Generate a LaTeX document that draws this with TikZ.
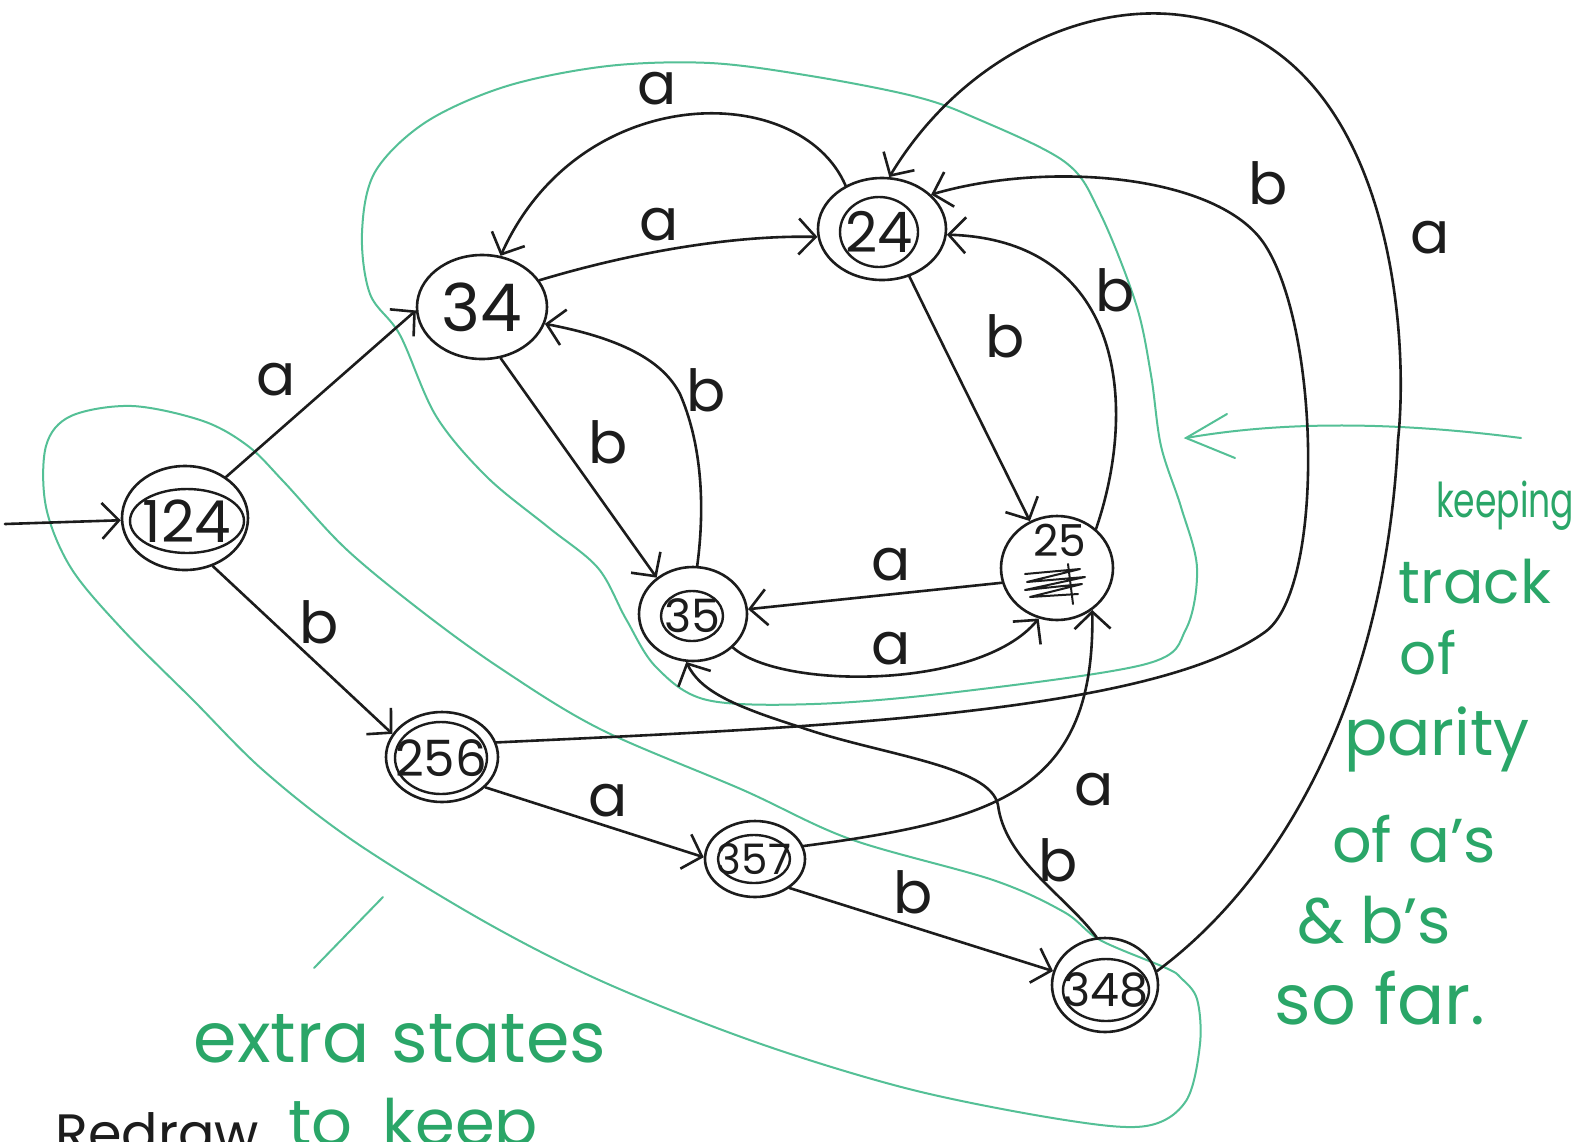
\documentclass[tikz,border=0pt]{standalone}
\usepackage{fontspec}
\setmainfont{Poppins}
\usetikzlibrary{arrows.meta,shapes.geometric}
\newcommand{\hsz}[1]{\fontsize{#1}{#1}\selectfont}
\definecolor{ink}{RGB}{28,28,28}
\definecolor{gline}{RGB}{84,192,150}
\definecolor{gtext}{RGB}{42,166,104}
\begin{document}
\begin{tikzpicture}[x=1pt,y=-1pt,
  every node/.style={inner sep=0pt},
  st/.style={ellipse, draw=ink, line width=2.6pt, inner sep=0pt},
  inn/.style={ellipse, draw=ink, line width=2.4pt, inner sep=0pt},
  edge/.style={draw=ink, line width=2.6pt, line cap=round, line join=round,
    -{Straight Barb[length=17pt,width=36pt]}},
  lab/.style={font=\hsz{58}, text=ink},
  gl/.style={draw=gline, line width=2pt, line cap=round},
  gt/.style={text=gtext, anchor=base}
]
\useasboundingbox (0,0) rectangle (1590,1141);
\clip (0,0) rectangle (1590,1141);
\fill[white] (0,0) rectangle (1590,1141);

% ---------- green outlines ----------
\draw[gl] plot[smooth cycle, tension=0.55] coordinates {
 (400,335) (436,416) (487,477) (548,527) (598,568) (626,619) (656,667)
 (707,700) (814,704) (957,692) (1146,664) (1186,629) (1197,568) (1181,507)
 (1161,446) (1151,375) (1136,304) (1100,213) (1065,162) (973,117) (913,96)
 (811,76) (710,63) (608,66) (507,86) (426,122) (375,172) (362,233) (370,294)};
\draw[gl] plot[smooth cycle, tension=0.55] coordinates {
 (248,446) (203,421) (132,406) (71,416) (46,446) (46,507) (71,568) (122,629)
 (193,700) (264,771) (355,842) (487,923) (608,984) (761,1044) (913,1090)
 (1065,1120) (1146,1126) (1186,1101) (1200,1044) (1197,999) (1181,978)
 (1166,968) (1100,940) (1064,912) (993,880) (850,839) (743,790) (600,729)
 (500,668) (420,610) (345,548) (284,482)};
% green arrow
\coordinate (ga0) at (1521,438);
\coordinate (ga1) at (1186,438);
\draw[gl] (ga0) .. controls (1420,425) and (1300,418) .. (ga1);
\draw[gl] (1227,414) -- (ga1) -- (1235,458);
% green slash
\coordinate (gs0) at (314,968);
\coordinate (gs1) at (383,897);
\draw[gl] (gs0) -- (gs1);

% ---------- states ----------
\node[st, minimum width=126, minimum height=104] (q124) at (185,518) {};
\node[inn, minimum width=114, minimum height=64,
  label={[font=\hsz{58},text=ink]center:124}] (q124i) at (187,521) {};

\node[st, minimum width=130, minimum height=104,
  label={[font=\hsz{66},text=ink]center:34}] (q34) at (482,307) {};

\node[st, minimum width=128, minimum height=102] (q24) at (882,229) {};
\node[inn, minimum width=78, minimum height=70,
  label={[font=\hsz{56},text=ink]center:24}] (q24i) at (879,232) {};

\node[st, minimum width=108, minimum height=94] (q35) at (693,614) {};
\node[inn, minimum width=62, minimum height=50,
  label={[font=\hsz{46},text=ink]center:35}] (q35i) at (692,616) {};

\node[st, minimum width=112, minimum height=104] (q25) at (1057,568) {};
\node[font=\hsz{44}, text=ink] (q25t) at (1060,540) {25};
\draw[ink, line width=2pt, line cap=round, line join=round]
  (1025,574) -- (1080,569) -- (1027,582) -- (1085,577) -- (1025,590)
  -- (1082,584) -- (1030,597) -- (1078,594);
\draw[ink, line width=2pt, line cap=round] (1068,564) -- (1073,604);

\node[st, minimum width=112, minimum height=90] (q256) at (442,757) {};
\node[inn, minimum width=92, minimum height=72,
  label={[font=\hsz{50},text=ink]center:256}] (q256i) at (441,758) {};

\node[st, minimum width=100, minimum height=76] (q357) at (755,859) {};
\node[inn, minimum width=72, minimum height=48,
  label={[font=\hsz{42},text=ink]center:357}] (q357i) at (754,859) {};

\node[st, minimum width=106, minimum height=94] (q348) at (1105,985) {};
\node[inn, minimum width=86, minimum height=62,
  label={[font=\hsz{46},text=ink]center:348}] (q348i) at (1106,990) {};

% ---------- transitions ----------
\coordinate (s0) at (5,524);
\draw[edge] (s0) -- (q124.182);
\draw[edge] (q124.45) -- (q34.183);
\draw[edge] (q124.300) -- (q256.155);
\draw[edge] (q34.25) .. controls (640,250) and (740,235) .. (q24.187);
\draw[edge] (q24.130) .. controls (800,80) and (580,80) .. (q34.70);
\draw[edge] (q34.290) -- (q35.135);
\draw[edge] (q35.85) .. controls (706,500) and (700,440) .. (680,394)
  .. controls (665,365) and (630,340) .. (q34.345);
\draw[edge] (q24.300) .. controls (950,360) and (990,440) .. (q25.120);
\draw[edge] (q25.45) .. controls (1140,400) and (1120,240) .. (q24.355);
\draw[edge] (q25.195) -- (q35.5);
\draw[edge] (q35.320) .. controls (780,690) and (980,690) .. (q25.250);
\draw[edge] (q256.325) -- (q357.178);
\draw[edge] (q357.320) -- (q348.165);
\draw[edge] (q357.15) .. controls (1000,820) and (1095,790) .. (q25.310);
\draw[edge] (q348.100) .. controls (1065,895) and (1005,860) .. (998,805)
  .. controls (990,765) and (880,755) .. (800,727)
  .. controls (730,705) and (700,690) .. (q35.262);
\draw[edge] (q256.15) .. controls (800,728) and (1150,715) .. (1265,632)
  .. controls (1325,589) and (1320,330) .. (1265,245)
  .. controls (1220,175) and (1050,160) .. (q24.35);
\draw[edge] (q348.15) .. controls (1280,880) and (1385,700) .. (1398,440)
  .. controls (1410,330) and (1390,40) .. (1180,15)
  .. controls (1080,3) and (960,60) .. (q24.82);

% ---------- transition labels ----------
\node[lab] (l1) at (276,380) {a};
\node[lab] (l2) at (319,622) {b};
\node[lab] (l3) at (659,225) {a};
\node[lab] (l4) at (657,89) {a};
\node[lab] (l5) at (608,442) {b};
\node[lab] (l6) at (706,390) {b};
\node[lab] (l7) at (1005,336) {b};
\node[lab] (l8) at (1115,290) {b};
\node[lab] (l9) at (891,565) {a};
\node[lab] (l10) at (891,649) {a};
\node[lab] (l11) at (608,801) {a};
\node[lab] (l12) at (913,892) {b};
\node[lab] (l13) at (1094,790) {a};
\node[lab] (l14) at (1058,860) {b};
\node[lab] (l15) at (1268,183) {b};
\node[lab] (l16) at (1430,238) {a};

% ---------- green notes ----------
\node[gt, font=\hsz{48}] (t1) at (1505,517) {\scalebox{0.72}[1]{keeping}};
\node[gt, font=\hsz{60}] (t2) at (1475,603) {track};
\node[gt, font=\hsz{58}] (t3) at (1428,674) {of};
\node[gt, font=\hsz{64}] (t4) at (1437,755) {parity};
\node[gt, font=\hsz{62}] (t5) at (1414,862) {of\hspace{16pt}a's};
\node[gt, font=\hsz{64}] (t6) at (1374,943) {\&\hspace{16pt}b's};
\node[gt, font=\hsz{70}] (t7) at (1380,1024) {so\hspace{18pt}far.};
\node[gt, font=\hsz{70}] (t8) at (400,1062) {extra\hspace{22pt}states};
\node[text=gtext, anchor=base west, font=\hsz{64}] (t9) at (288,1145) {to\hspace{30pt}keep};
\node[text=ink, anchor=base west, font=\hsz{54}] (t10) at (55,1152) {Redraw};
\end{tikzpicture}
\end{document}
